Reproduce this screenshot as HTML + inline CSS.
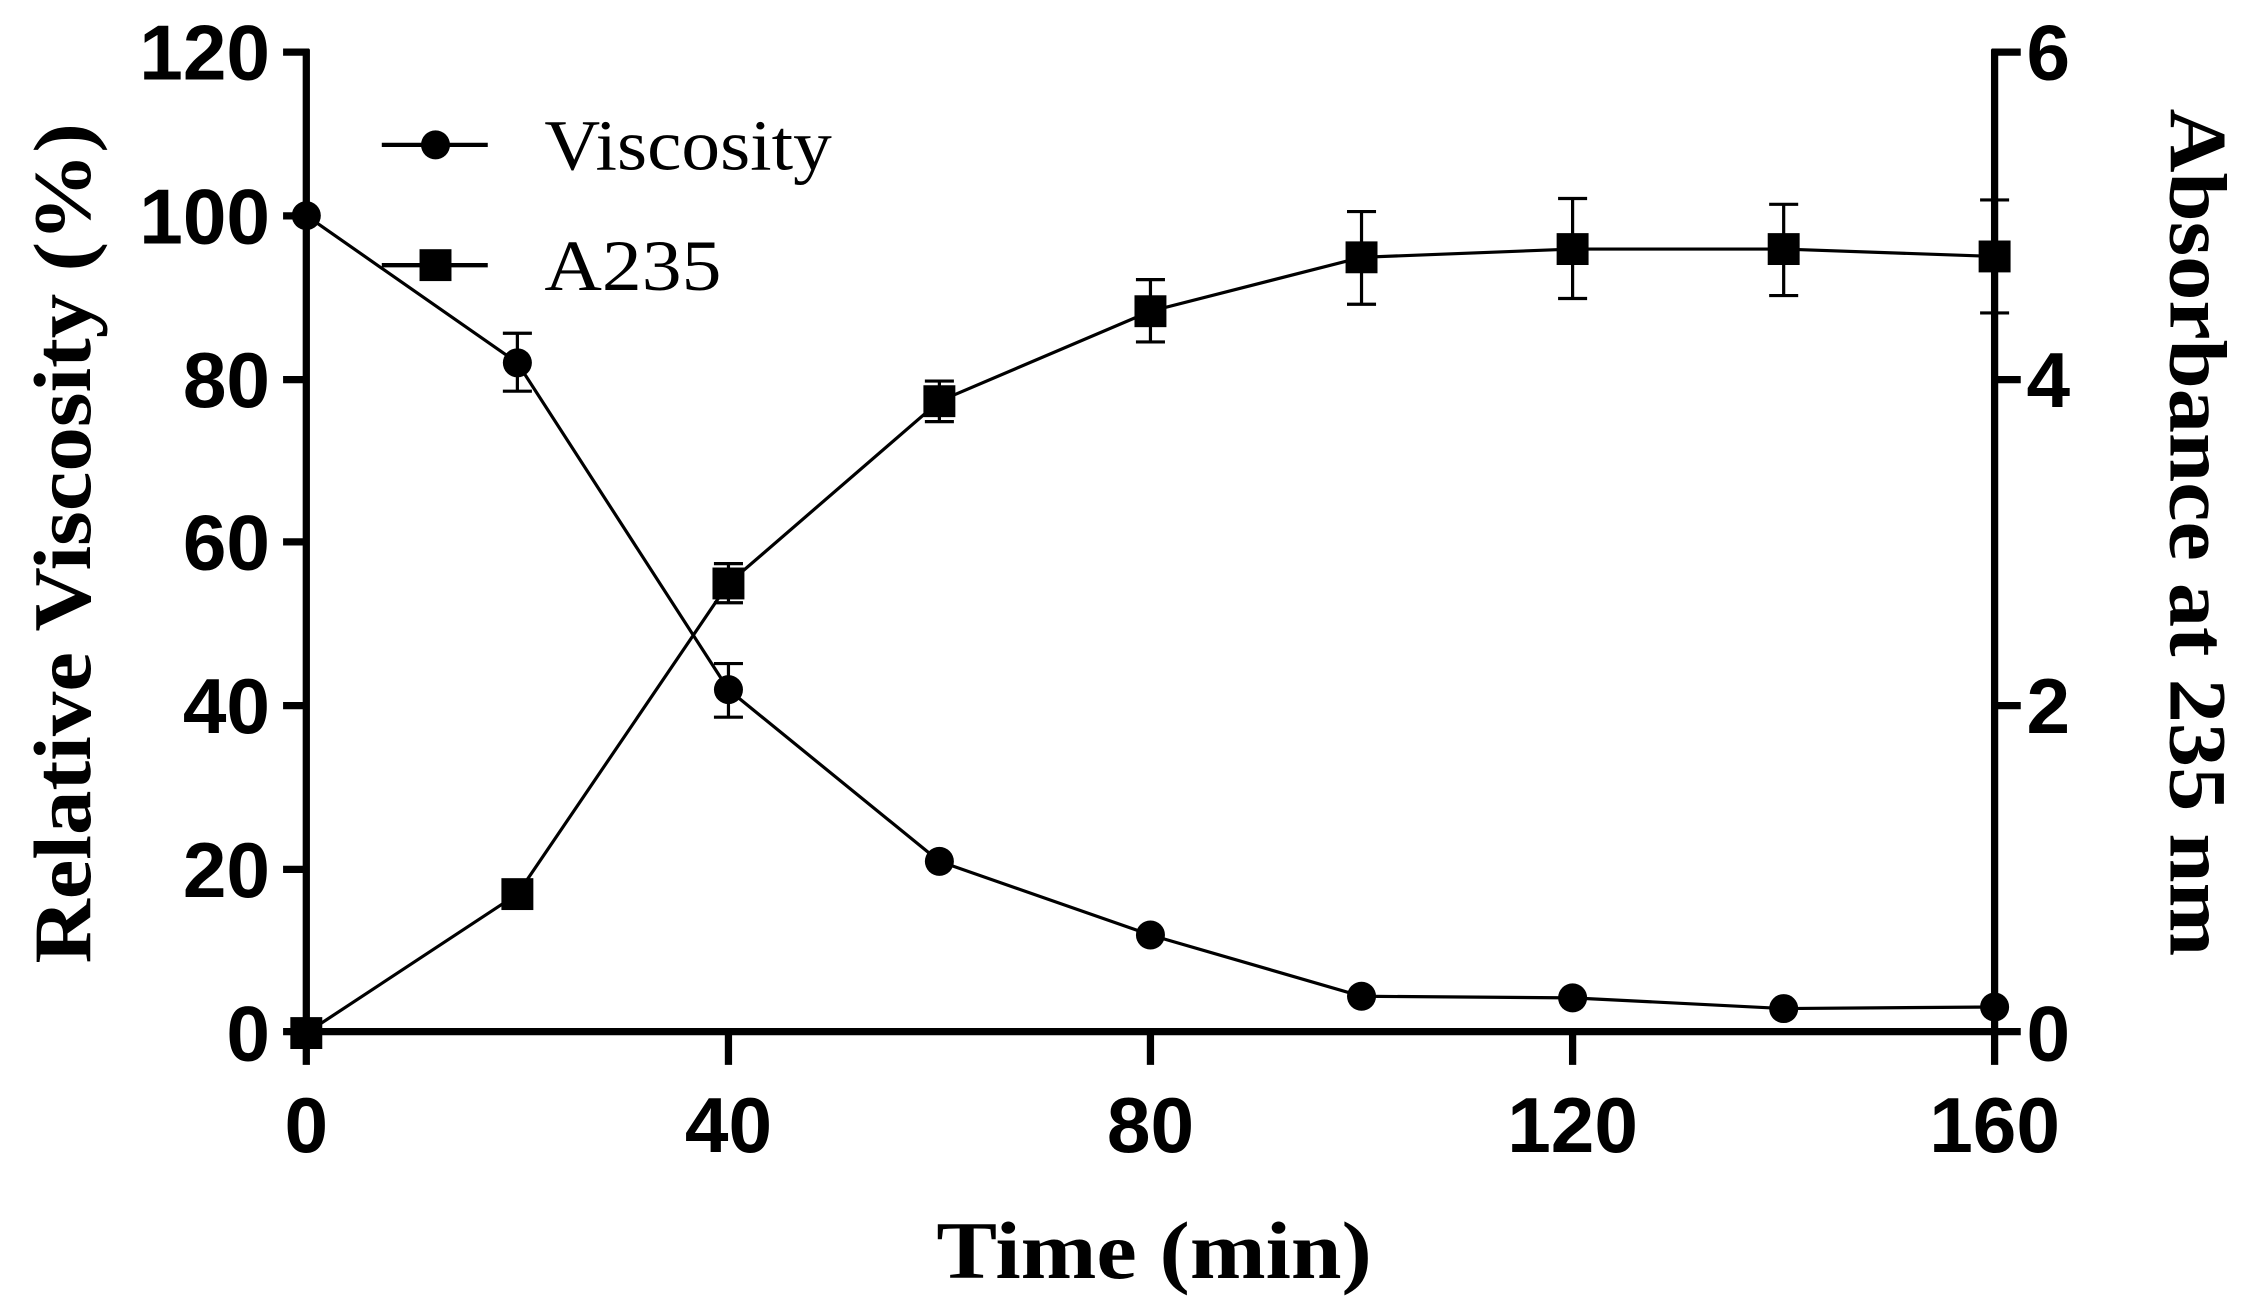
<!DOCTYPE html>
<html><head><meta charset="utf-8"><style>html,body{margin:0;padding:0;background:#fff}svg{display:block}</style></head>
<body>
<svg width="2253" height="1304" viewBox="0 0 1552 900" preserveAspectRatio="none" xmlns="http://www.w3.org/2000/svg">
<rect width="1552" height="900" fill="#fff"/>
<g stroke="#000" fill="none">
<!-- axes -->
<line x1="211" y1="34" x2="211" y2="735" stroke-width="5"/>
<line x1="1374" y1="34" x2="1374" y2="713" stroke-width="5"/>
<line x1="195" y1="712" x2="1392" y2="712" stroke-width="5"/>
<!-- left ticks -->
<g stroke-width="5">
<line x1="195" y1="36" x2="213" y2="36"/><line x1="195" y1="149" x2="213" y2="149"/>
<line x1="195" y1="262" x2="213" y2="262"/><line x1="195" y1="374" x2="213" y2="374"/>
<line x1="195" y1="487" x2="213" y2="487"/><line x1="195" y1="600" x2="213" y2="600"/>
<!-- right ticks -->
<line x1="1372" y1="36" x2="1392" y2="36"/><line x1="1372" y1="262" x2="1392" y2="262"/>
<line x1="1372" y1="487" x2="1392" y2="487"/>
<!-- x ticks -->
<line x1="501.8" y1="710" x2="501.8" y2="735"/><line x1="792.5" y1="710" x2="792.5" y2="735"/>
<line x1="1083.3" y1="710" x2="1083.3" y2="735"/><line x1="1374" y1="710" x2="1374" y2="735"/>
</g>
<!-- series lines -->
<polyline stroke-width="2.2" points="211,148.8 356.4,250.4 501.8,476 647.1,594.5 792.5,645.3 937.9,687.6 1083.3,688.7 1228.7,696.1 1374,695"/>
<polyline stroke-width="2.2" points="211,713 356.4,617.1 501.8,402.7 647.1,276.9 792.5,214.8 937.9,177.6 1083.3,171.9 1228.7,171.9 1374,177"/>
<!-- error bars -->
<g stroke-width="2.2">
<path d="M356.4,230V270M346.4,230H366.4M346.4,270H366.4"/>
<path d="M501.8,458V495M491.8,458H511.8M491.8,495H511.8"/>
<path d="M501.8,389V416M491.8,389H511.8M491.8,416H511.8"/>
<path d="M647.1,263V291M637.1,263H657.1M637.1,291H657.1"/>
<path d="M792.5,193V236M782.5,193H802.5M782.5,236H802.5"/>
<path d="M937.9,146V210M927.9,146H947.9M927.9,210H947.9"/>
<path d="M1083.3,137V206M1073.3,137H1093.3M1073.3,206H1093.3"/>
<path d="M1228.7,141V204M1218.7,141H1238.7M1218.7,204H1238.7"/>
<path d="M1374,138V216M1364,138H1384M1364,216H1384"/>
</g>
<!-- legend lines -->
<line x1="263" y1="100" x2="336" y2="100" stroke-width="3"/>
<line x1="263" y1="183" x2="336" y2="183" stroke-width="3"/>
</g>
<g fill="#000">
<circle cx="211" cy="148.8" r="10"/><circle cx="356.4" cy="250.4" r="10"/><circle cx="501.8" cy="476" r="10"/>
<circle cx="647.1" cy="594.5" r="10"/><circle cx="792.5" cy="645.3" r="10"/><circle cx="937.9" cy="687.6" r="10"/>
<circle cx="1083.3" cy="688.7" r="10"/><circle cx="1228.7" cy="696.1" r="10"/><circle cx="1374" cy="695" r="10"/>
<rect x="200" y="702" width="22" height="22"/><rect x="345.4" y="606.1" width="22" height="22"/>
<rect x="490.8" y="391.7" width="22" height="22"/><rect x="636.1" y="265.9" width="22" height="22"/>
<rect x="781.5" y="203.8" width="22" height="22"/><rect x="926.9" y="166.6" width="22" height="22"/>
<rect x="1072.3" y="160.9" width="22" height="22"/><rect x="1217.7" y="160.9" width="22" height="22"/>
<rect x="1363" y="166" width="22" height="22"/>
<circle cx="300" cy="100" r="10"/><rect x="289" y="172" width="22" height="22"/>
</g>
<g font-family="Liberation Sans, Arial, sans-serif" font-weight="bold" font-size="54" fill="#000">
<g text-anchor="end">
<text x="186" y="55">120</text><text x="186" y="168">100</text><text x="186" y="281">80</text>
<text x="186" y="393">60</text><text x="186" y="506">40</text><text x="186" y="619">20</text><text x="186" y="732">0</text>
</g>
<text x="1396" y="55">6</text><text x="1396" y="281">4</text><text x="1396" y="506">2</text><text x="1396" y="732">0</text>
<g text-anchor="middle">
<text x="211" y="795">0</text><text x="501.8" y="795">40</text><text x="792.5" y="795">80</text>
<text x="1083.3" y="795">120</text><text x="1374" y="795">160</text>
</g>
</g>
<g font-family="Liberation Serif, Times New Roman, serif" fill="#000">
<text x="645" y="882" font-weight="bold" font-size="56" textLength="300" lengthAdjust="spacingAndGlyphs">Time (min)</text>
<text transform="translate(62,665) rotate(-90)" font-weight="bold" font-size="56" textLength="580" lengthAdjust="spacingAndGlyphs">Relative Viscosity (%)</text>
<text transform="translate(1495,75) rotate(90)" font-weight="bold" font-size="56" textLength="585" lengthAdjust="spacingAndGlyphs">Absorbance at 235 nm</text>
<text x="375" y="117" font-size="50" textLength="198" lengthAdjust="spacingAndGlyphs">Viscosity</text>
<text x="375" y="200" font-size="50" textLength="122" lengthAdjust="spacingAndGlyphs">A235</text>
</g>
</svg>
</body></html>
